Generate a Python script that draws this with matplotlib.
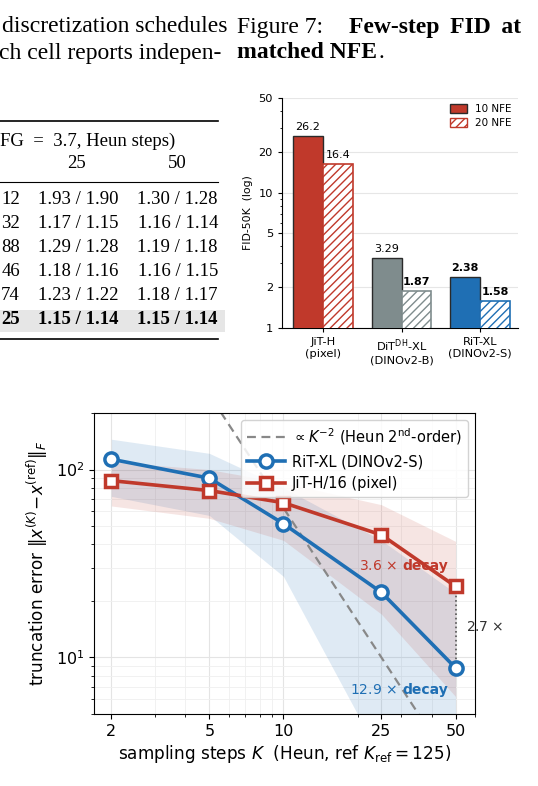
import matplotlib
matplotlib.use("Agg")
import matplotlib.pyplot as plt
import numpy as np
from matplotlib.patches import Rectangle, Patch
from matplotlib.lines import Line2D
from matplotlib.ticker import LogLocator, FixedLocator, NullFormatter, FixedFormatter

# ---------------- data ----------------
table_header = "FG = 3.7, Heun steps)"
table_steps = ["25", "50"]
row_prefix = ["12", "32", "88", "46", "74", "25"]
fid_25_a = [1.93, 1.17, 1.29, 1.18, 1.23, 1.15]
fid_25_b = [1.90, 1.15, 1.28, 1.16, 1.22, 1.14]
fid_50_a = [1.30, 1.16, 1.19, 1.16, 1.18, 1.15]
fid_50_b = [1.28, 1.14, 1.18, 1.15, 1.17, 1.14]

bar_models = ["JiT-H\n(pixel)", "DiT$^{\\mathrm{DH}}$-XL\n(DINOv2-B)", "RiT-XL\n(DINOv2-S)"]
fid_10nfe = [26.2, 3.29, 2.38]
fid_20nfe = [16.4, 1.87, 1.58]
bar_yticks = [1, 2, 5, 10, 20, 50]

steps_K = [2, 5, 10, 25, 50]
rit_err = [113.5, 90.0, 51.5, 22.2, 8.8]
rit_lo = [72.0, 57.0, 27.0, 2.9, 1.5]
rit_hi = [145.0, 122.0, 80.0, 42.0, 22.0]
jit_err = [87.3, 77.3, 66.6, 44.9, 23.9]
jit_lo = [64.0, 55.0, 42.0, 17.0, 6.2]
jit_hi = [110.0, 100.0, 85.0, 65.0, 41.5]
heun_const = 6250.0
line_xticks = [2, 5, 10, 25, 50]

# ---------------- figure ----------------
W, H = 538, 786
fig = plt.figure(figsize=(W / 100, H / 100), dpi=100)


def fx(x):
    return x / W


def fy(y):
    return 1 - y / H


SERIF = "Liberation Serif"
body = 17

# body text
fig.text(fx(2), fy(27), "discretization schedules", family=SERIF, size=body, va="center", ha="left")
fig.text(fx(-1), fy(53), "ch cell reports indepen-", family=SERIF, size=body, va="center", ha="left")
fig.text(fx(237), fy(27), "Figure 7:", family=SERIF, size=body, va="center", ha="left")
fig.text(fx(521), fy(27), "Few-step\u2009 FID\u2009 at", family=SERIF, size=body, weight="bold",
         va="center", ha="right")
fig.text(fx(237), fy(53), "matched NFE", family=SERIF, size=body, weight="bold", va="center", ha="left")
fig.text(fx(378), fy(53), ".", family=SERIF, size=body, va="center", ha="left")

# ---------------- table ----------------
tsize = 13.5
fig.add_artist(Line2D([fx(0), fx(218)], [fy(121), fy(121)], color="black", lw=1.2))
fig.add_artist(Line2D([fx(0), fx(218)], [fy(182), fy(182)], color="black", lw=0.8))
fig.add_artist(Line2D([fx(0), fx(218)], [fy(339), fy(339)], color="black", lw=1.2))
fig.text(fx(0), fy(141), table_header.replace(" = ", "\u2002=\u2002"), family=SERIF, size=tsize,
         va="center", ha="left")
fig.text(fx(77), fy(163), table_steps[0], family=SERIF, size=tsize, va="center", ha="center")
fig.text(fx(177), fy(163), table_steps[1], family=SERIF, size=tsize, va="center", ha="center")
row_y = [199, 223, 247, 272, 295, 320]
fig.add_artist(Rectangle((fx(0), fy(332)), fx(225), 22 / H, transform=fig.transFigure,
                         facecolor="#e6e6e6", edgecolor="none", zorder=0))
for i, yy in enumerate(row_y):
    w = "bold" if i == len(row_y) - 1 else "normal"
    fig.text(fx(20), fy(yy), row_prefix[i], family=SERIF, size=tsize, va="center", ha="right", weight=w)
    fig.text(fx(118), fy(yy), f"{fid_25_a[i]:.2f} / {fid_25_b[i]:.2f}", family=SERIF, size=tsize,
             va="center", ha="right", weight=w)
    fig.text(fx(218), fy(yy), f"{fid_50_a[i]:.2f} / {fid_50_b[i]:.2f}", family=SERIF, size=tsize,
             va="center", ha="right", weight=w)

# ---------------- bar chart ----------------
plt.rcParams["hatch.linewidth"] = 1.0
bar_colors = ["#c0392b", "#7f8c8d", "#1f6fb4"]
axb = fig.add_axes([fx(282), fy(328), 236 / W, 230 / H])
x = np.arange(len(bar_models))
bw = 0.38
for i in range(len(bar_models)):
    axb.bar(x[i] - bw / 2, fid_10nfe[i], width=bw, color=bar_colors[i], edgecolor="#2a2a2a",
            linewidth=1.0, zorder=3)
    axb.bar(x[i] + bw / 2, fid_20nfe[i], width=bw, facecolor="white", edgecolor=bar_colors[i],
            hatch="////", linewidth=1.2, zorder=3)
bold10 = [False, False, True]
bold20 = [False, True, True]


def fmt(v):
    return f"{v:.1f}" if v >= 10 else f"{v:.2f}"


for i in range(len(bar_models)):
    axb.text(x[i] - bw / 2, fid_10nfe[i] * 1.07, fmt(fid_10nfe[i]),
             ha="center", va="bottom", fontsize=8, weight="bold" if bold10[i] else "normal")
    axb.text(x[i] + bw / 2, fid_20nfe[i] * 1.07, fmt(fid_20nfe[i]),
             ha="center", va="bottom", fontsize=8, weight="bold" if bold20[i] else "normal")
axb.set_yscale("log")
axb.set_ylim(1, 50)
axb.set_xlim(-0.52, 2.48)
axb.yaxis.set_major_locator(FixedLocator(bar_yticks))
axb.yaxis.set_major_formatter(FixedFormatter([str(v) for v in bar_yticks]))
axb.yaxis.set_minor_locator(LogLocator(base=10, subs=np.arange(2, 10)))
axb.yaxis.set_minor_formatter(NullFormatter())
axb.set_xticks(x)
axb.set_xticklabels(bar_models, fontsize=8.2)
axb.tick_params(axis="y", labelsize=8.2, length=3)
axb.tick_params(axis="y", which="minor", length=1.5)
axb.tick_params(axis="x", length=3)
axb.set_ylabel("FID-50K  (log)", fontsize=7.8)
axb.grid(axis="y", which="major", color="#e6e6e6", lw=0.8, zorder=0)
for s in ["top", "right"]:
    axb.spines[s].set_visible(False)
handles = [Patch(facecolor=bar_colors[0], edgecolor="#2a2a2a", label="10 NFE"),
           Patch(facecolor="white", edgecolor=bar_colors[0], hatch="////", label="20 NFE")]
axb.legend(handles=handles, loc="upper right", fontsize=7.5, frameon=False,
           handlelength=1.6, handleheight=0.9, borderaxespad=0.2, labelspacing=0.4)

# ---------------- line chart ----------------
blue = "#1f6fb4"
red = "#c0392b"
axl = fig.add_axes([fx(94), fy(714), 381 / W, 301 / H])
axl.set_xscale("log")
axl.set_yscale("log")
axl.set_xlim(1.7, 60)
axl.set_ylim(5, 200)
axl.fill_between(steps_K, rit_lo, rit_hi, color=blue, alpha=0.14, lw=0, zorder=1)
axl.fill_between(steps_K, jit_lo, jit_hi, color=red, alpha=0.13, lw=0, zorder=1)
kk = np.geomspace(1.7, 60, 200)
axl.plot(kk, heun_const / kk ** 2, ls=(0, (4, 2.5)), color="#888888", lw=1.6, zorder=2,
         label="$\\propto K^{-2}$ (Heun 2$^{\\mathrm{nd}}$-order)")
axl.plot(steps_K, rit_err, "-o", color=blue, lw=2.6, ms=9.5, mfc="white", mec=blue, mew=2.5,
         zorder=4, label="RiT-XL (DINOv2-S)")
axl.plot(steps_K, jit_err, "-s", color=red, lw=2.6, ms=8, mfc="white", mec=red, mew=2.5,
         zorder=4, label="JiT-H/16 (pixel)")
axl.plot([steps_K[-1], steps_K[-1]], [rit_err[-1], jit_err[-1]], ls=":", color="#555555", lw=1.2, zorder=3)
axl.xaxis.set_major_locator(FixedLocator(line_xticks))
axl.xaxis.set_major_formatter(FixedFormatter([str(v) for v in line_xticks]))
axl.xaxis.set_minor_locator(LogLocator(base=10, subs=np.arange(2, 10)))
axl.xaxis.set_minor_formatter(NullFormatter())
axl.tick_params(labelsize=11.5)
axl.grid(which="major", color="#e4e4e4", lw=0.8, zorder=0)
axl.grid(which="minor", color="#efefef", lw=0.6, zorder=0)
axl.set_axisbelow(True)
axl.set_xlabel("sampling steps $K$  (Heun, ref $K_{\\mathrm{ref}} = 125$)", fontsize=12.2, labelpad=3)
axl.set_ylabel("truncation error $\\|x^{(K)}\\!-\\!x^{(\\mathrm{ref})}\\|_F$", fontsize=12.2)
axl.legend(loc="upper right", fontsize=10.5, framealpha=0.85, edgecolor="#cccccc",
           handlelength=2.6, handletextpad=0.5, borderaxespad=0.5)

# annotations
fig.text(fx(397), fy(566), "3.6 $\\times$", color=red, fontsize=10, ha="right", va="center")
fig.text(fx(402), fy(566), "decay", color=red, fontsize=10, weight="bold", ha="left", va="center")
fig.text(fx(397), fy(690), "12.9 $\\times$", color=blue, fontsize=10, ha="right", va="center")
fig.text(fx(402), fy(690), "decay", color=blue, fontsize=10, weight="bold", ha="left", va="center")
fig.text(fx(466), fy(627), "2.7 $\\times$", color="#333333", fontsize=10, ha="left", va="center")

fig.savefig("out.png", dpi=100)
